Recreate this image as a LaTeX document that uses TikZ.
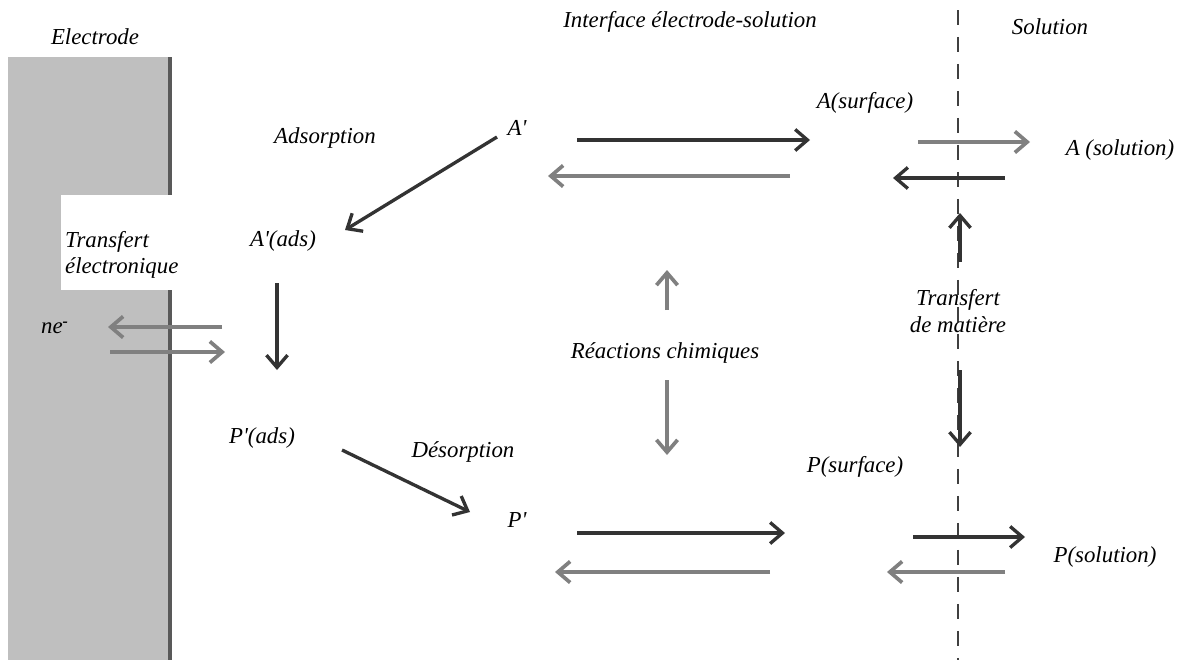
\documentclass[tikz,border=0pt]{standalone}
\usepackage{fontspec}
\setmainfont{Liberation Serif}
\usetikzlibrary{arrows.meta}

\tikzset{
    lbl/.style={font=\fontsize{13}{15}\selectfont\itshape, inner sep=1pt},
    darr/.style={draw=black!80, line width=1.9pt, -{Straight Barb[length=7pt,width=12pt]}},
    garr/.style={draw=black!50, line width=2.1pt, -{Straight Barb[length=7pt,width=12pt]}},
}

\begin{document}
\begin{tikzpicture}[x=0.02cm,y=-0.02cm]
    \useasboundingbox (0,0) rectangle (1189,660);
    % electrode
    \fill[black!25] (8,57) rectangle (168,660);
    \draw[black!65, line width=2.2pt] (170,57) -- (170,660);
    \fill[white] (61,195) rectangle (181,290);
    % boundary to the solution
    \draw[black!75, line width=1.2pt, dash pattern=on 0.3cm off 0.24cm] (958,10) -- (958,660);
    % titles
    \node[lbl] (electrode) at (95,37) {Electrode};
    \node[lbl] (interface) at (690,22) {Interface électrode-solution};
    \node[lbl] (solution) at (1050,27) {Solution};
    % species
    \node[lbl] (Ap) at (517,128) {A\textquotesingle};
    \node[lbl] (Asurf) at (865,103) {A(surface)};
    \node[lbl] (Asol) at (1120,150) {A (solution)};
    \node[lbl] (Apads) at (283,241) {A\textquotesingle(ads)};
    \node[lbl] (ne) at (55,328) {ne\textsuperscript{\textbf{-}}};
    \node[lbl] (Ppads) at (262,438) {P\textquotesingle(ads)};
    \node[lbl] (Pp) at (517,520) {P\textquotesingle};
    \node[lbl] (Psurf) at (855,467) {P(surface)};
    \node[lbl] (Psol) at (1105,557) {P(solution)};
    % processes
    \node[lbl] (ads) at (325,138) {Adsorption};
    \node[lbl] (des) at (463,452) {Désorption};
    \node[lbl, align=left, anchor=west] (transel) at (63,255) {Transfert\\électronique};
    \node[lbl] (reac) at (665,353) {Réactions chimiques};
    \node[lbl, align=center] (transmat) at (958,311) {Transfert\\de matière};
    % electron transfer
    \draw[garr] (222,327) -- (108,327);
    \draw[garr] (110,352) -- (225,352);
    % adsorption, reaction, desorption
    \draw[darr] (497,137) -- (345,230);
    \draw[darr] (277,283) -- (277,370);
    \draw[darr] (342,450) -- (470,512);
    % A' <-> A(surface) <-> A (solution)
    \draw[darr] (577,140) -- (810,140);
    \draw[garr] (790,176) -- (548,176);
    \draw[garr] (918,142) -- (1030,142);
    \draw[darr] (1005,178) -- (893,178);
    % P' <-> P(surface) <-> P(solution)
    \draw[darr] (577,533) -- (785,533);
    \draw[garr] (770,572) -- (555,572);
    \draw[darr] (913,537) -- (1025,537);
    \draw[garr] (1005,572) -- (887,572);
    % chemical reactions and mass transfer
    \draw[garr] (667,310) -- (667,270);
    \draw[garr] (667,380) -- (667,455);
    \draw[darr] (960,262) -- (960,213);
    \draw[darr] (960,370) -- (960,447);
\end{tikzpicture}
\end{document}
